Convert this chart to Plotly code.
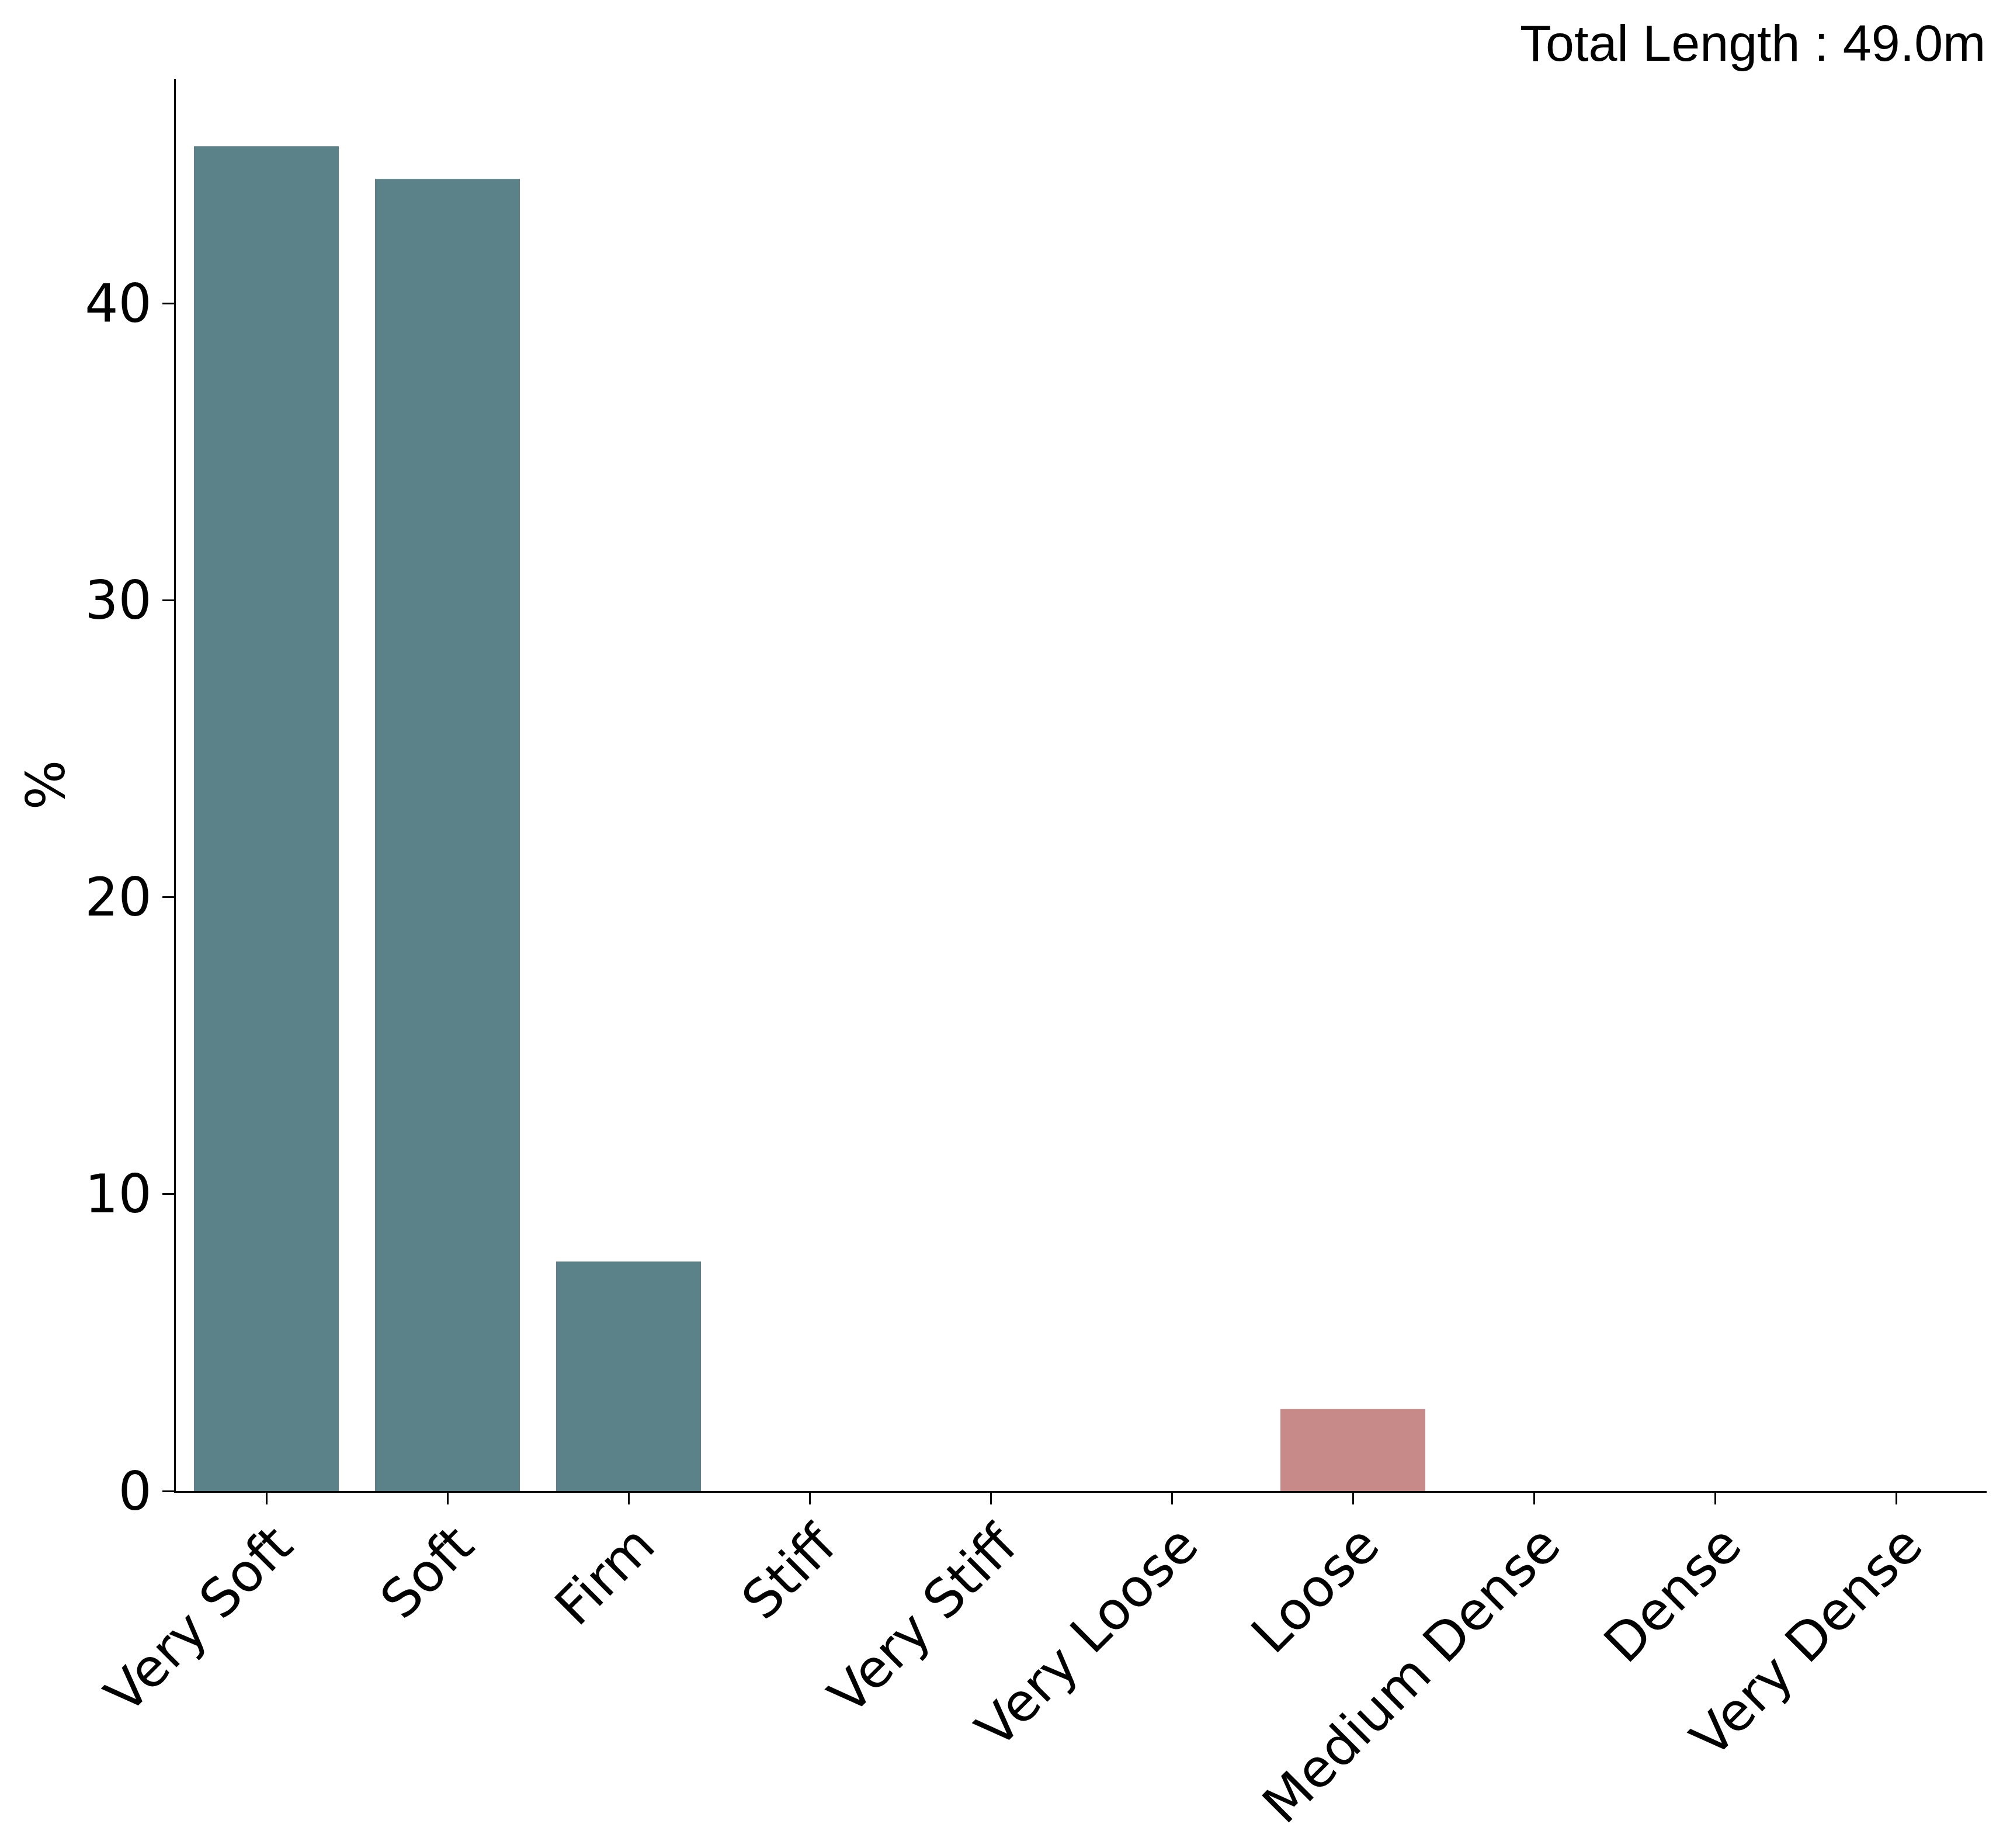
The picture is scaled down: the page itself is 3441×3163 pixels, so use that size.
import plotly.graph_objects as go

categories = ["Very Soft", "Soft", "Firm", "Stiff", "Very Stiff",
              "Very Loose", "Loose", "Medium Dense", "Dense", "Very Dense"]
percent = [45.3, 44.2, 7.73, 0, 0, 0, 2.76, 0, 0, 0]
bar_colors = ["#5b8288"] * 5 + ["#c88a89"] * 5
y_ticks = [0, 10, 20, 30, 40]
total_length_label = "Total Length : 49.0m"

# page body has an 8px margin; compensate so the plot lands where the reference has it
OFF = 8
W, H = 3441 - OFF, 3163 - OFF
L, R, T, B = 301 - OFF, 40, 135 - OFF, 611

fig = go.Figure()
fig.add_trace(go.Bar(
    x=list(range(len(categories))),
    y=percent,
    marker=dict(color=bar_colors, line=dict(width=0)),
    width=0.8,
    showlegend=False,
))

tick_font = dict(family="DejaVu Sans", size=90, color="black")

fig.update_layout(
    width=W, height=H,
    margin=dict(l=L, r=R, t=T, b=B, autoexpand=False),
    paper_bgcolor="white",
    plot_bgcolor="white",
    xaxis=dict(
        range=[-0.5, 9.5],
        tickmode="array",
        tickvals=list(range(len(categories))),
        ticktext=categories,
        tickangle=-45,
        tickfont=tick_font,
        ticklabelstandoff=-20,
        ticklabelshift=18,
        showline=True, linecolor="black", linewidth=3.3,
        ticks="outside", ticklen=20, tickwidth=3, tickcolor="black",
        showgrid=False, zeroline=False,
    ),
    yaxis=dict(
        range=[0, 47.57],
        tickmode="array",
        tickvals=y_ticks,
        ticktext=[str(v) for v in y_ticks],
        tickfont=tick_font,
        showline=True, linecolor="black", linewidth=3.3,
        ticks="outside", ticklen=20, tickwidth=3, tickcolor="black",
        showgrid=False, zeroline=False,
        title=dict(text="%", font=tick_font, standoff=5),
    ),
    annotations=[dict(
        text=total_length_label,
        xref="paper", yref="paper",
        x=1, y=1, xanchor="right", yanchor="bottom",
        yshift=10,
        showarrow=False,
        font=dict(family="Liberation Sans", size=88, color="black"),
    )],
)

fig.write_html("out.html")
